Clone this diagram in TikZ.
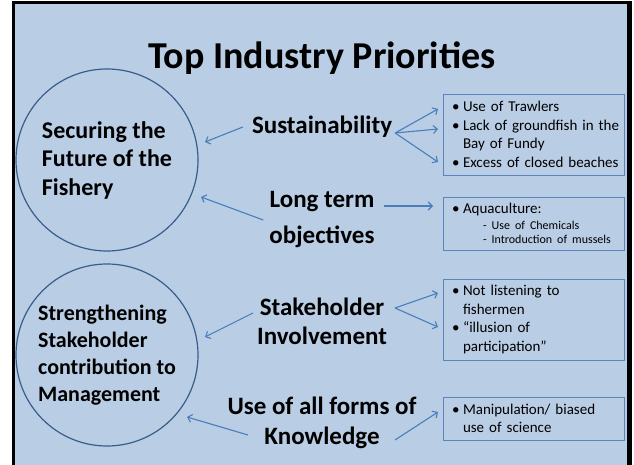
\documentclass[tikz,border=0pt]{standalone}
\usepackage{fontspec}
\setmainfont{Carlito}
\usetikzlibrary{arrows.meta}
\definecolor{slidebg}{HTML}{B9CDE5}
\definecolor{ringblue}{HTML}{385D8A}
\definecolor{arrowblue}{HTML}{4A7EBB}
\definecolor{boxline}{HTML}{5B83BD}
\newcommand{\itm}[1]{\mbox{\makebox[11pt][l]{\textbullet}#1}}
\newcommand{\cont}[1]{\mbox{\hspace*{11pt}#1}}

\begin{document}
\begin{tikzpicture}[x=1pt, y=-1pt, every node/.style={inner sep=0pt, text=black},
  ring/.style={circle, draw=ringblue, line width=1.2pt, minimum size=182pt, align=left},
  lbl/.style={font=\fontsize{25}{30}\selectfont\bfseries, align=center, inner sep=3pt},
  listbox/.style={draw=boxline, line width=0.8pt, minimum width=181pt, text width=163pt,
    inner xsep=9pt, align=left, font=\fontsize{15}{18.6}\selectfont},
  arr/.style={draw=arrowblue, line width=1.1pt, -{Straight Barb[length=4pt, width=8pt]}}]
  \useasboundingbox (0,0) rectangle (634,465);
  % slide
  \fill[white] (0,0) rectangle (634,465);
  \fill[slidebg] (13,3) rectangle (629,465);
  \draw[line width=3pt] (13,465) -- (13,3) -- (629,3);
  \draw[line width=5pt] (629,1.5) -- (629,465);
  % title
  \node[font=\fontsize{38}{40}\selectfont\bfseries] (title) at (322,58) {Top Industry Priorities};
  % goals
  \node[ring, font=\fontsize{24}{28.5}\selectfont\bfseries] (goal1) at (107,160)
    {Securing the\\Future of the\\Fishery};
  \node[ring, font=\fontsize{22}{26.8}\selectfont\bfseries] (goal2) at (107,355)
    {Strengthening\\Stakeholder\\contribution to\\Management};
  % priorities
  \node[lbl] (sust) at (322,127) {Sustainability};
  \node[lbl, font=\fontsize{25}{36}\selectfont\bfseries] (long) at (322,220) {Long term\\objectives};
  \node[lbl, font=\fontsize{25}{29}\selectfont\bfseries] (stake) at (322,321) {Stakeholder\\Involvement};
  \node[lbl] (know) at (322,423) {Use of all forms of\\Knowledge};
  % issues
  \node[listbox, minimum height=81pt] (iss1) at (533.5,134.5)
    {\itm{Use of Trawlers}\\\itm{Lack of groundfish in the}\\\cont{Bay of Fundy}\\\itm{Excess of closed beaches}};
  \node[listbox, minimum height=53pt] (iss2) at (533.5,223.5)
    {\itm{Aquaculture:}\\[1pt]{\fontsize{12}{14.5}\selectfont\hspace*{31pt}- Use of Chemicals\\\hspace*{31pt}- Introduction of mussels\par}};
  \node[listbox, minimum height=81pt] (iss3) at (533.5,319.5)
    {\itm{Not listening to}\\\cont{fishermen}\\\itm{``illusion of}\\\cont{participation''}};
  \node[listbox, minimum height=43pt] (iss4) at (533.5,418.5)
    {\itm{Manipulation/ biased}\\\cont{use of science}};
  % arrow ends
  \coordinate (g1a) at (205,142);
  \coordinate (g1b) at (201,197);
  \coordinate (g2a) at (205,337);
  \coordinate (g2b) at (187,417);
  \coordinate (i1a) at (438,109);
  \coordinate (i1b) at (438,129);
  \coordinate (i1c) at (438,162);
  \coordinate (i2a) at (433,206);
  \coordinate (i3a) at (438,293);
  \coordinate (i3b) at (438,327);
  \coordinate (i4a) at (438,412);
  % arrows
  \draw[arr] ([xshift=-6pt]sust.west) -- (g1a);
  \draw[arr] ([xshift=-3pt]long.west) -- (g1b);
  \foreach \t in {i1a,i1b,i1c}
    \draw[arr] ([yshift=-6pt]sust.east) -- (\t);
  \draw[arr] ([xshift=6pt]long.east |- i2a) -- (i2a);
  \draw[arr] ([xshift=-69pt, yshift=8pt]stake.center) -- (g2a);
  \foreach \t in {i3a,i3b}
    \draw[arr] ([xshift=73pt, yshift=13pt]stake.center) -- (\t);
  \draw[arr] ([xshift=-74pt, yshift=-12pt]know.center) -- (g2b);
  \draw[arr] ([xshift=73pt, yshift=-17pt]know.center) -- (i4a);
\end{tikzpicture}
\end{document}
